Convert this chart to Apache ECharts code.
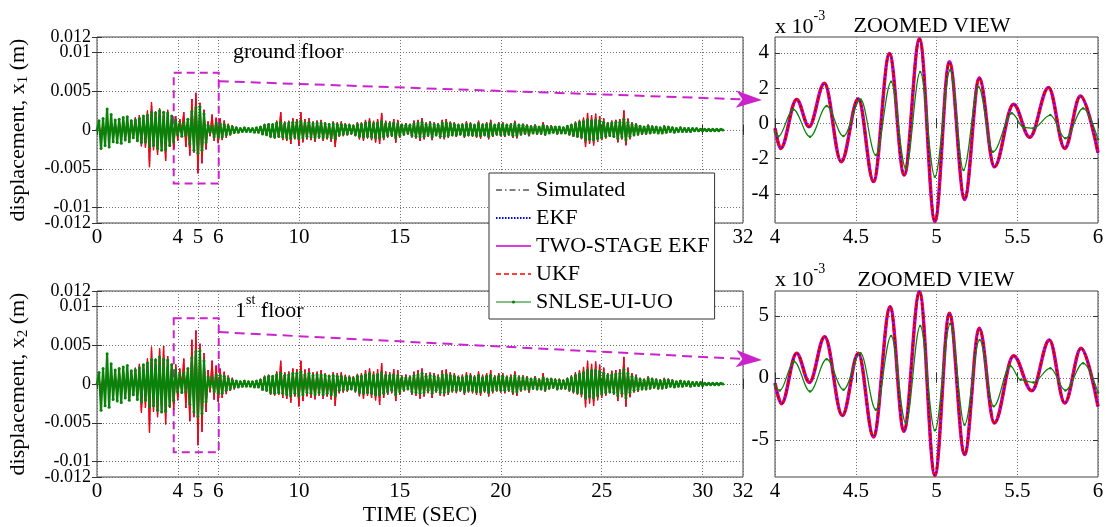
<!DOCTYPE html>
<html><head><meta charset="utf-8">
<script src="https://cdn.jsdelivr.net/npm/echarts@6/dist/echarts.min.js"></script>
<style>html,body{margin:0;padding:0;background:#fff}#c{width:1106px;height:527px}</style>
</head><body><div id="c"></div>
<script>
const FONT = 'Liberation Serif';
const dt = 0.1; // sample step of the full records (s)

// Full records, displacement in 10^-3 m, one value each 0.1 s from 0 to 31 s
const floor1True = [
0,0.6,-0.8,0.9,-1.0,0.8,-0.9,1.1,-0.7,1.0,
-1.2,1.4,-1.1,1.5,-1.3,1.2,-1.6,1.3,-1.0,1.6,
-1.5,1.9,-2.1,1.7,-2.3,2.5,-4.8,3.6,-2.6,2.4,
-3.2,2.8,-2.5,2.1,-4.0,2.6,-2.2,1.9,-2.4,1.8,
-1.4,1.4,-0.2,2.3,-2.2,1.4,-3.3,4.0,-2.9,4.8,
-5.6,3.5,-4.3,2.6,-2.5,1.1,-0.8,2.0,-1.4,1.6,
-1.7,1.5,-1.3,1.2,-1.0,0.8,-0.7,0.6,-0.5,0.4,
-0.4,0.3,-0.3,0.3,-0.2,0.3,-0.2,0.2,-0.3,0.3,
-0.4,0.5,-0.6,0.8,-0.7,0.9,-1.0,0.8,-1.1,1.2,
-1.0,2.3,-1.3,1.1,-1.4,1.2,-1.8,1.5,-1.2,1.4,
-2.0,2.3,-1.6,1.4,-1.2,1.5,-1.3,1.1,-1.5,1.2,
-1.1,1.3,-1.4,1.0,-1.2,0.9,-1.5,1.1,-2.2,1.0,
-0.9,1.1,-0.8,0.9,-0.7,0.8,-0.6,0.7,-0.8,1.0,
-1.2,1.0,-1.4,1.3,-1.1,1.5,-1.3,1.2,-1.6,1.4,
-1.8,2.2,-1.3,1.2,-1.0,1.1,-0.9,1.4,-1.6,1.3,
-1.0,0.8,-0.7,0.9,-0.6,0.8,-1.0,1.2,-1.1,1.3,
-1.4,1.5,-1.2,1.0,-0.9,1.1,-1.3,1.0,-0.8,0.9,
-1.1,1.3,-1.2,1.4,-1.0,1.1,-0.8,1.0,-0.9,0.8,
-0.7,0.9,-1.0,1.1,-0.8,1.0,-0.9,0.8,-1.0,1.2,
-1.1,0.9,-0.8,1.0,-1.2,1.3,-0.9,0.8,-0.7,1.0,
-0.8,1.0,-0.9,0.8,-0.7,0.9,-1.0,1.2,-1.1,0.8,
-0.7,0.8,-0.6,0.7,-0.8,0.6,-0.5,0.7,-0.6,0.5,
-0.6,1.0,-0.7,0.6,-0.5,0.6,-0.4,0.5,-0.6,0.5,
-0.5,0.4,-0.5,0.6,-0.7,0.8,-0.9,1.1,-1.0,1.3,
-1.2,1.6,-2.2,2.2,-1.8,1.9,-2.0,2.1,-1.5,1.8,
-1.3,1.5,-1.1,1.0,-0.9,1.2,-1.0,1.3,-1.6,1.4,
-1.2,2.5,-2.0,1.5,-1.2,1.0,-0.8,0.9,-0.7,0.6,
-0.6,0.5,-0.6,0.7,-0.5,0.6,-0.4,0.5,-0.5,0.4,
-0.5,0.6,-0.4,0.5,-0.3,0.4,-0.4,0.3,-0.3,0.4,
-0.3,0.3,-0.2,0.3,-0.3,0.2,-0.2,0.2,-0.2,0.2,
-0.2,0.1,-0.2,0.1,-0.1,0.1,-0.1,0.1,-0.1,0.1,
0];
const floor1Snlse = [
0,1.2,-2.4,1.5,-2.0,2.7,-2.2,2.0,-1.5,1.3,
-1.6,1.4,-1.7,1.6,-1.3,1.7,-1.5,1.2,-1.0,1.3,
-1.4,1.5,-1.6,1.8,-1.5,1.9,-2.1,2.3,-2.0,2.2,
-2.4,2.5,-2.6,2.3,-2.5,2.2,-2.0,1.8,-1.5,1.3,
-0.6,0.8,-0.8,1.0,-0.7,1.4,-1.8,2.4,-2.6,2.9,
-3.0,3.0,-2.6,2.1,-1.6,0.6,-0.3,0.5,-0.9,0.9,
-0.9,0.8,-0.9,0.7,-0.6,0.5,-0.5,0.4,-0.3,0.3,
-0.3,0.2,-0.2,0.3,-0.2,0.2,-0.2,0.2,-0.3,0.3,
-0.3,0.4,-0.5,0.6,-0.6,0.7,-0.8,0.7,-0.9,0.9,
-0.8,1.0,-0.9,0.8,-1.0,0.9,-1.1,1.0,-0.9,1.0,
-1.1,1.2,-1.0,0.9,-0.8,1.0,-0.9,0.8,-1.0,0.9,
-0.8,0.9,-1.0,0.8,-0.9,0.7,-1.0,0.8,-1.1,0.7,
-0.6,0.7,-0.5,0.6,-0.5,0.6,-0.4,0.5,-0.6,0.7,
-0.8,0.7,-0.9,0.9,-0.8,1.0,-0.9,0.8,-1.0,0.9,
-1.0,1.1,-0.9,0.8,-0.7,0.8,-0.6,0.9,-1.0,0.8,
-0.7,0.6,-0.5,0.6,-0.4,0.6,-0.7,0.8,-0.8,0.9,
-0.9,1.0,-0.8,0.7,-0.6,0.8,-0.9,0.7,-0.6,0.6,
-0.8,0.9,-0.8,0.9,-0.7,0.8,-0.6,0.7,-0.6,0.6,
-0.5,0.6,-0.7,0.7,-0.6,0.7,-0.6,0.6,-0.7,0.8,
-0.7,0.6,-0.6,0.7,-0.8,0.8,-0.6,0.6,-0.5,0.7,
-0.6,0.7,-0.6,0.6,-0.5,0.6,-0.7,0.8,-0.7,0.6,
-0.5,0.6,-0.4,0.5,-0.5,0.4,-0.4,0.5,-0.4,0.4,
-0.4,0.6,-0.5,0.4,-0.4,0.4,-0.3,0.4,-0.4,0.4,
-0.4,0.3,-0.4,0.5,-0.5,0.6,-0.7,0.8,-0.8,1.0,
-0.9,1.1,-1.3,1.3,-1.2,1.2,-1.3,1.3,-1.1,1.2,
-1.0,1.0,-0.8,0.8,-0.7,0.9,-0.8,1.0,-1.1,1.0,
-0.9,1.4,-1.3,1.0,-0.8,0.7,-0.6,0.6,-0.5,0.5,
-0.4,0.4,-0.4,0.5,-0.4,0.4,-0.3,0.4,-0.4,0.3,
-0.4,0.4,-0.3,0.4,-0.2,0.3,-0.3,0.2,-0.2,0.3,
-0.2,0.2,-0.2,0.2,-0.2,0.2,-0.1,0.2,-0.1,0.1,
-0.1,0.1,-0.1,0.1,-0.1,0.1,-0.1,0.1,-0.1,0.1,
0];
const floor2True = [
0,0.8,-1.1,1.2,-1.3,1.1,-1.2,1.4,-1.0,1.3,
-1.6,1.8,-1.5,2.0,-1.7,1.6,-2.1,1.8,-1.4,2.1,
-1.9,2.6,-3.7,2.3,-3.1,3.3,-6.3,4.8,-3.6,3.3,
-4.3,4.6,-3.4,4.9,-5.2,3.6,-3.1,2.6,-3.3,2.5,
-2.1,2.0,-0.4,3.3,-3.1,2.0,-4.8,5.7,-4.3,6.9,
-7.9,5.2,-6.2,4.0,-3.6,1.8,-1.1,3.0,-2.0,2.4,
-2.3,2.0,-1.8,1.6,-1.3,1.1,-0.9,0.8,-0.7,0.5,
-0.5,0.4,-0.4,0.4,-0.3,0.4,-0.3,0.3,-0.4,0.4,
-0.5,0.7,-0.8,1.1,-1.0,1.2,-1.4,1.1,-1.5,1.6,
-1.4,3.0,-1.8,1.5,-1.9,1.6,-2.4,2.0,-1.6,1.9,
-2.9,3.0,-2.2,1.9,-1.6,2.0,-1.8,1.5,-2.0,1.6,
-1.5,1.8,-1.9,1.4,-1.6,1.2,-2.0,1.5,-2.8,1.4,
-1.2,1.5,-1.1,1.2,-1.0,1.1,-0.8,1.0,-1.1,1.3,
-1.6,1.4,-1.9,1.8,-1.5,2.0,-1.8,1.6,-2.1,1.9,
-2.7,2.7,-1.8,1.6,-1.4,1.5,-1.2,1.9,-2.2,1.8,
-1.4,1.1,-1.0,1.2,-0.8,1.1,-1.4,1.6,-1.5,1.8,
-1.9,2.0,-1.6,1.4,-1.2,1.5,-1.8,1.4,-1.1,1.2,
-1.5,1.8,-1.6,1.9,-1.4,1.5,-1.1,1.4,-1.2,1.1,
-1.0,1.2,-1.4,1.5,-1.1,1.4,-1.2,1.1,-1.4,1.6,
-1.5,1.2,-1.1,1.4,-1.6,1.8,-1.2,1.1,-1.0,1.4,
-1.1,1.4,-1.2,1.1,-1.0,1.2,-1.4,1.6,-1.5,1.1,
-1.0,1.1,-0.8,1.0,-1.1,0.8,-0.7,1.0,-0.8,0.7,
-0.8,1.4,-1.0,0.8,-0.7,0.8,-0.6,0.7,-0.8,0.7,
-0.7,0.6,-0.7,0.8,-1.0,1.1,-1.2,1.5,-1.4,1.8,
-1.7,2.2,-3.0,3.0,-2.5,2.6,-2.8,2.9,-2.1,2.5,
-1.8,2.1,-1.5,1.4,-1.2,1.7,-1.4,1.8,-2.2,1.9,
-1.7,3.5,-2.9,2.1,-1.7,1.4,-1.1,1.2,-1.0,0.8,
-0.8,0.7,-0.8,1.0,-0.7,0.8,-0.6,0.7,-0.7,0.6,
-0.7,0.8,-0.6,0.7,-0.4,0.6,-0.5,0.4,-0.4,0.5,
-0.4,0.4,-0.3,0.4,-0.4,0.3,-0.3,0.3,-0.3,0.3,
-0.3,0.2,-0.2,0.2,-0.1,0.1,-0.1,0.1,-0.1,0.1,
0];
const floor2Snlse = [
0,1.5,-3.4,2.0,-2.8,3.9,-3.0,2.6,-2.0,1.8,
-2.2,2.0,-2.4,2.2,-1.8,2.4,-2.1,1.7,-1.4,1.8,
-2.0,2.1,-2.3,2.5,-2.1,2.7,-2.9,3.2,-2.8,3.1,
-3.4,3.5,-3.6,3.2,-3.5,3.1,-2.8,2.5,-2.1,1.8,
-1.0,1.3,-1.1,1.5,-1.0,2.0,-2.6,3.4,-3.6,4.2,
-4.2,4.3,-3.8,3.0,-2.3,0.9,-0.4,0.8,-1.0,1.2,
-1.2,1.1,-1.2,1.0,-0.8,0.7,-0.6,0.5,-0.4,0.4,
-0.4,0.3,-0.3,0.4,-0.3,0.3,-0.3,0.3,-0.4,0.4,
-0.4,0.5,-0.7,0.8,-0.8,1.0,-1.1,1.0,-1.2,1.2,
-1.1,1.4,-1.2,1.1,-1.4,1.2,-1.5,1.4,-1.2,1.4,
-1.5,1.6,-1.4,1.2,-1.1,1.4,-1.2,1.1,-1.4,1.2,
-1.1,1.2,-1.4,1.1,-1.2,1.0,-1.4,1.1,-1.5,1.0,
-0.8,1.0,-0.7,0.8,-0.7,0.8,-0.6,0.7,-0.8,1.0,
-1.1,1.0,-1.2,1.2,-1.1,1.4,-1.2,1.1,-1.4,1.2,
-1.4,1.5,-1.2,1.1,-1.0,1.1,-0.8,1.2,-1.4,1.1,
-1.0,0.8,-0.7,0.8,-0.6,0.8,-1.0,1.1,-1.1,1.2,
-1.2,1.4,-1.1,1.0,-0.8,1.1,-1.2,1.0,-0.8,0.8,
-1.1,1.2,-1.1,1.2,-1.0,1.1,-0.8,1.0,-0.8,0.8,
-0.7,0.8,-1.0,1.0,-0.8,1.0,-0.8,0.8,-1.0,1.1,
-1.0,0.8,-0.8,1.0,-1.1,1.1,-0.8,0.8,-0.7,1.0,
-0.8,1.0,-0.8,0.8,-0.7,0.8,-1.0,1.1,-1.0,0.8,
-0.7,0.8,-0.6,0.7,-0.7,0.6,-0.5,0.7,-0.6,0.5,
-0.6,0.8,-0.7,0.6,-0.5,0.6,-0.4,0.5,-0.6,0.5,
-0.5,0.4,-0.5,0.6,-0.7,0.8,-0.9,1.1,-1.1,1.3,
-1.2,1.5,-1.8,1.8,-1.6,1.7,-1.8,1.8,-1.5,1.6,
-1.3,1.4,-1.1,1.1,-1.0,1.2,-1.1,1.3,-1.5,1.4,
-1.2,1.9,-1.8,1.4,-1.1,1.0,-0.8,0.8,-0.7,0.6,
-0.6,0.5,-0.6,0.7,-0.5,0.6,-0.4,0.5,-0.5,0.4,
-0.5,0.5,-0.4,0.5,-0.3,0.4,-0.4,0.3,-0.3,0.4,
-0.3,0.3,-0.2,0.3,-0.3,0.2,-0.2,0.2,-0.2,0.2,
-0.2,0.1,-0.1,0.1,-0.1,0.1,-0.1,0.1,-0.1,0.1,
0];

// Zoomed views 4-6 s: [time s, displacement 10^-3 m] at turning points
const zoom1True = [[4.0,-0.28],[4.035,-1.42],[4.134,1.36],[4.21,-0.19],[4.306,2.27],[4.41,-2.17],[4.516,1.40],[4.61,-3.30],[4.709,3.96],[4.80,-2.93],[4.895,4.80],[4.99,-5.57],[5.08,3.49],[5.174,-4.31],[5.265,2.58],[5.358,-2.46],[5.477,1.09],[5.577,-0.79],[5.694,2.04],[5.794,-1.42],[5.891,1.56],[6.0,-1.66]];
const zoom1Snlse = [[4.0,-0.50],[4.02,-0.75],[4.113,0.79],[4.217,-0.76],[4.32,0.98],[4.424,-0.72],[4.53,1.36],[4.624,-1.80],[4.719,2.36],[4.81,-2.55],[4.899,2.92],[4.99,-3.02],[5.085,3.02],[5.167,-2.64],[5.26,2.07],[5.35,-1.61],[5.467,0.57],[5.54,-0.23],[5.60,-0.28],[5.705,0.47],[5.798,-0.85],[5.908,0.85],[6.0,-0.90]];
const zoom2True = [[4.0,-0.43],[4.04,-2.09],[4.134,1.98],[4.213,-0.37],[4.308,3.32],[4.417,-3.05],[4.516,1.98],[4.61,-4.77],[4.713,5.73],[4.798,-4.31],[4.895,6.94],[4.99,-7.88],[5.08,5.20],[5.174,-6.19],[5.265,3.99],[5.358,-3.64],[5.477,1.77],[5.59,-1.05],[5.699,3.05],[5.794,-2.04],[5.895,2.38],[6.0,-2.30]];
const zoom2Snlse = [[4.0,-0.64],[4.03,-1.02],[4.118,1.31],[4.217,-1.10],[4.32,1.50],[4.424,-0.96],[4.53,1.98],[4.624,-2.57],[4.719,3.38],[4.81,-3.64],[4.899,4.18],[4.99,-4.23],[5.085,4.34],[5.174,-3.78],[5.267,3.05],[5.354,-2.30],[5.457,0.96],[5.52,-0.16],[5.60,-0.37],[5.705,0.78],[5.798,-1.02],[5.908,1.18],[6.0,-1.18]];

// Zoom window marked on the full records: [t0, t1, top m, bottom m]
const box1 = [3.8, 6.03, 0.0074, -0.0069];
const box2 = [3.8, 6.03, 0.0085, -0.0088];
const arrowStart1 = [6.03, 0.0063];
const arrowStart2 = [6.03, 0.0067];

const fullXTicks = [0,4,5,6,10,15,20,25,30,32];
const fullYTicks = [-0.012,-0.01,-0.005,0,0.005,0.01,0.012];
const fullYInnerLabels = [-0.01,-0.005,0,0.005,0.01];
const fullYEdgeLabels = [-0.012,0.012];
const zoomXTicks = [4,4.5,5,5.5,6];
const zoom1YTicks = [-4,-2,0,2,4];
const zoom2YTicks = [-5,0,5];
const names = ['Simulated','EKF','TWO-STAGE EKF','UKF','SNLSE-UI-UO'];

const C = {sim:'#000000', ekf:'#0000ff', two:'#cc00cc', ukf:'#ff0000', sn:'#0a820a', mag:'#cc22cc'};

function toMeters(arr){ return arr.map((v,i)=>[Math.round(i*dt*10)/10, v/1000]); }

const grids = [
  {left:97, top:37, width:646, height:186},
  {left:97, top:291, width:646, height:186},
  {left:775, top:37, width:323, height:186},
  {left:775, top:291, width:323, height:186}
].map(g=>Object.assign({show:true, borderColor:'#444', borderWidth:1, backgroundColor:'#fff', outerBoundsMode:'none', containLabel:false}, g));

const split = {show:true, lineStyle:{color:'#707070', width:1, type:[1,2]}};
const fmt = v=>String(+(+v).toFixed(4));
function mainAxis(kind, gi, min, max, ticks, fs, margin, extra, labelVals){
  return Object.assign({
    type:'value', gridIndex:gi, min:min, max:max,
    position: kind==='x' ? 'bottom' : 'left',
    axisLine:{show:false},
    axisTick:{show:true, inside:true, length:5, customValues:ticks, lineStyle:{color:'#333'}},
    axisLabel:{show:true, customValues:labelVals||ticks, color:'#000', fontFamily:FONT, fontSize:fs, margin:margin,
               showMinLabel:true, showMaxLabel:true, hideOverlap:false, formatter:fmt},
    splitLine:split
  }, extra||{});
}
function mirrorAxis(kind, gi, min, max, ticks){
  return {type:'value', gridIndex:gi, min:min, max:max, position: kind==='x' ? 'top' : 'right',
    axisLine:{show:false}, axisLabel:{show:false}, splitLine:{show:false},
    axisTick:{show:true, inside:true, length:5, customValues:ticks, lineStyle:{color:'#333'}}};
}
function edgeLabelAxis(gi, min, max, vals){
  return {type:'value', gridIndex:gi, min:min, max:max, position:'left',
    axisLine:{show:false}, axisTick:{show:false}, splitLine:{show:false},
    axisLabel:{show:true, customValues:vals, color:'#000', fontFamily:FONT, fontSize:18, margin:6,
               showMinLabel:true, showMaxLabel:true, formatter:fmt}};
}

const yName = sub => ({
  name:'{a|displacement, x}{s|'+sub+'}{a| (m)}', nameLocation:'middle', nameRotate:90, nameGap:66,
  nameTextStyle:{color:'#000', fontFamily:FONT, fontSize:22,
    rich:{a:{fontFamily:FONT, fontSize:22, lineHeight:26, color:'#000'},
          s:{fontFamily:FONT, fontSize:15, lineHeight:12, verticalAlign:'bottom', color:'#000'}}}
});

const xAxis = [
  mainAxis('x',0,0,32,fullXTicks,21,4),
  mainAxis('x',1,0,32,fullXTicks,21,4,{name:'TIME (SEC)', nameLocation:'middle', nameGap:27,
     nameTextStyle:{color:'#000', fontFamily:FONT, fontSize:22}}),
  mainAxis('x',2,4,6,zoomXTicks,21,4),
  mainAxis('x',3,4,6,zoomXTicks,21,4),
  mirrorAxis('x',0,0,32,fullXTicks), mirrorAxis('x',1,0,32,fullXTicks),
  mirrorAxis('x',2,4,6,zoomXTicks), mirrorAxis('x',3,4,6,zoomXTicks)
];
const yAxis = [
  mainAxis('y',0,-0.012,0.012,fullYTicks,18,6,yName('1'),fullYInnerLabels),
  mainAxis('y',1,-0.012,0.012,fullYTicks,18,6,yName('2'),fullYInnerLabels),
  mainAxis('y',2,-5.65,4.9,zoom1YTicks,21,6),
  mainAxis('y',3,-8,7,zoom2YTicks,21,6),
  mirrorAxis('y',0,-0.012,0.012,fullYTicks), mirrorAxis('y',1,-0.012,0.012,fullYTicks),
  mirrorAxis('y',2,-5.65,4.9,zoom1YTicks), mirrorAxis('y',3,-8,7,zoom2YTicks),
  edgeLabelAxis(0,-0.012,0.012,fullYEdgeLabels), edgeLabelAxis(1,-0.012,0.012,fullYEdgeLabels)
];

function line(name, gi, data, style, z, more){
  return Object.assign({
    type:'line', name:name, xAxisIndex:gi, yAxisIndex:gi, data:data, z:z,
    symbol:'none', showSymbol:false, silent:true, clip:true,
    itemStyle:{color:style.color}, lineStyle:style, emphasis:{disabled:true}
  }, more||{});
}

function fullSeries(gi, trueArr, snArr, box, aStart, aEnd){
  const tr = toMeters(trueArr), sn = toMeters(snArr);
  return [
    line(names[0], gi, tr, {color:C.sim, width:0.6, type:[6,3,1.5,3]}, 2),
    line(names[1], gi, tr, {color:C.ekf, width:0.6, type:[1.5,1.5]}, 2),
    line(names[2], gi, tr, {color:C.two, width:0.6, type:'solid'}, 2),
    line(names[3], gi, tr, {color:C.ukf, width:1.3, type:'solid'}, 3),
    line(names[4], gi, sn, {color:C.sn, width:2.2, type:'solid'}, 4, {
      symbol:'circle', symbolSize:3, showSymbol:true,
      markArea:{silent:true, itemStyle:{color:'rgba(0,0,0,0)', borderColor:C.mag, borderWidth:2, borderType:[8,5]},
        data:[[{coord:[box[0], box[2]]},{coord:[box[1], box[3]]}]]},
      markLine:{silent:true, symbol:['none','arrow'], symbolSize:[13,26], animation:false,
        label:{show:false}, lineStyle:{color:C.mag, width:2, type:[10,6]},
        data:[[{coord:aStart}, {x:aEnd[0], y:aEnd[1]}]]}
    })
  ];
}
function zoomSeries(gi, trueArr, snArr){
  const sm = {smooth:0.36, smoothMonotone:'x'};
  return [
    line(names[0], gi, trueArr, {color:C.sim, width:1.5, type:[6,3,1.5,3]}, 2, sm),
    line(names[2], gi, trueArr, {color:C.two, width:3.5, type:'solid'}, 2, sm),
    line(names[3], gi, trueArr, {color:C.ukf, width:2.6, type:[8,2]}, 3, sm),
    line(names[1], gi, trueArr, {color:C.ekf, width:1.3, type:[1.5,3]}, 4, sm),
    line(names[4], gi, snArr, {color:C.sn, width:1.2, type:'solid'}, 5,
      Object.assign({symbol:'circle', symbolSize:2.5, showSymbol:true}, sm))
  ];
}

const series = [].concat(
  fullSeries(0, floor1True, floor1Snlse, box1, arrowStart1, [762,100]),
  fullSeries(1, floor2True, floor2Snlse, box2, arrowStart2, [762,360]),
  zoomSeries(2, zoom1True, zoom1Snlse),
  zoomSeries(3, zoom2True, zoom2Snlse)
);

const supRich = {
  a:{fontFamily:FONT, fontSize:22, lineHeight:36, fill:'#000', color:'#000'},
  s:{fontFamily:FONT, fontSize:14, lineHeight:14, verticalAlign:'top', fill:'#000', color:'#000'}
};
function txt(x, y, text, align){
  return {type:'text', x:x, y:y, z:10, silent:true,
    style:{text:text, fontFamily:FONT, fontSize:22, fill:'#000', align:align||'left', verticalAlign:'middle'}};
}
function rtxt(x, y, text){
  return {type:'text', x:x, y:y, z:10, silent:true,
    style:{text:text, rich:supRich, fontFamily:FONT, fontSize:22, fill:'#000', align:'left', verticalAlign:'middle'}};
}
const noSym = {opacity:0, color:'rgba(0,0,0,0)', borderWidth:0};

const option = {
  animation:false,
  backgroundColor:'#fff',
  grid:grids,
  xAxis:xAxis,
  yAxis:yAxis,
  series:series,
  legend:{
    orient:'vertical', left:489, top:173, z:20,
    backgroundColor:'#fff', borderColor:'#333', borderWidth:1,
    padding:[6,5,6,6], itemGap:6, itemWidth:35, itemHeight:4,
    selectedMode:false,
    textStyle:{fontFamily:FONT, fontSize:22, color:'#000'},
    data:[
      {name:names[0], itemStyle:noSym, lineStyle:{color:C.sim, width:1, type:[6,3,1.5,3]}},
      {name:names[1], itemStyle:noSym, lineStyle:{color:C.ekf, width:2, type:[1.5,1.5]}},
      {name:names[2], itemStyle:noSym, lineStyle:{color:C.two, width:1.5, type:'solid'}},
      {name:names[3], itemStyle:noSym, lineStyle:{color:C.ukf, width:1.5, type:[5,3]}},
      {name:names[4], lineStyle:{color:C.sn, width:1, type:'solid'}}
    ]
  },
  graphic:[
    txt(233, 52, 'ground floor'),
    rtxt(235, 311, '{a|1}{s|st}{a| floor}'),
    rtxt(775, 27, '{a|x 10}{s|-3}'),
    rtxt(775, 280, '{a|x 10}{s|-3}'),
    txt(932, 26, 'ZOOMED VIEW', 'center'),
    txt(936, 280, 'ZOOMED VIEW', 'center')
  ]
};
const chart = echarts.init(document.getElementById('c'), null, {renderer:'canvas'});
chart.setOption(option);
</script></body></html>
